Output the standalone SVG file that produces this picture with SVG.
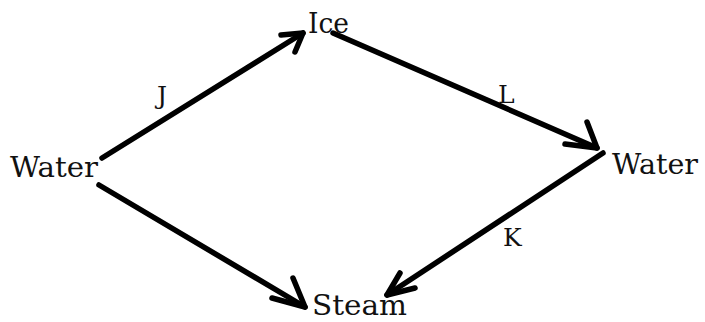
<svg xmlns="http://www.w3.org/2000/svg" width="705" height="322" viewBox="0 0 705 322">
<style>
.t{font-family:"DejaVu Serif","Liberation Serif",serif;font-size:27px;fill:#111}
.l{font-family:"DejaVu Serif","Liberation Serif",serif;font-size:25px;fill:#111}
.c{fill:none;stroke:#000;stroke-width:5.5;stroke-linecap:round;stroke-linejoin:round}
</style>
<rect width="705" height="322" fill="#fff"/>
<g id="water-left"><text class="t" x="10" y="177" textLength="88" lengthAdjust="spacingAndGlyphs">Water</text></g>
<g id="ice"><text class="t" x="308" y="33" textLength="41" lengthAdjust="spacingAndGlyphs">Ice</text></g>
<g id="water-right"><text class="t" x="612" y="174" textLength="86" lengthAdjust="spacingAndGlyphs">Water</text></g>
<g id="steam"><text class="t" x="312" y="315" textLength="95" lengthAdjust="spacingAndGlyphs">Steam</text></g>
<g id="connectors">
<path class="c" d="M102 158 L303 33" stroke-width="6.5"/>
<path class="c" d="M281 35 L303 33 L295 52"/>
<path class="c" d="M333 33 L597 148"/>
<path class="c" d="M587 122 L597 148 L565 144"/>
<path class="c" d="M603 153 L387 295"/>
<path class="c" d="M400 273 L387 295 L415 288"/>
<path class="c" d="M99 185 L305 307"/>
<path class="c" d="M293 278 L305 307 L272 298"/>
</g>
<g id="labels">
<text class="l" x="157" y="104">J</text>
<text class="l" x="498" y="103">L</text>
<text class="l" x="503" y="246">K</text>
</g>
</svg>
